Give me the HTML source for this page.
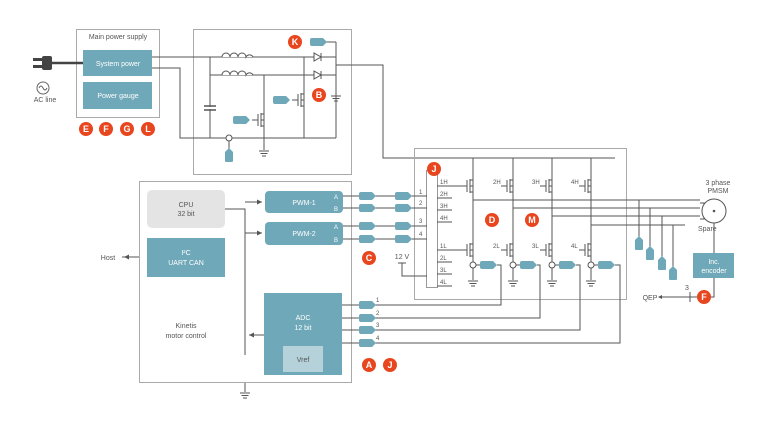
<!DOCTYPE html>
<html><head><meta charset="utf-8"><style>
html,body{margin:0;padding:0;background:#fff;}
svg{display:block;font-family:"Liberation Sans",sans-serif;}
</style></head><body>
<svg width="768" height="432" viewBox="0 0 768 432" xmlns="http://www.w3.org/2000/svg">
<defs>
<path id="tg" d="M0,-4 h11 l4,4 l-4,4 h-11 a2,2 0 0 1 -2,-2 v-4 a2,2 0 0 1 2,-2z" fill="#6fa8b8"/>
<path id="tgv" d="M-4,0 l4,-4 l4,4 v9 a1,1 0 0 1 -1,1 h-6 a1,1 0 0 1 -1,-1z" fill="#6fa8b8"/>
<g id="gnd" stroke="#555" stroke-width="1"><line x1="-5" y1="0" x2="5" y2="0"/><line x1="-3.5" y1="2.5" x2="3.5" y2="2.5"/><line x1="-2" y1="5" x2="2" y2="5"/></g>
<g id="fet" stroke="#555" stroke-width="1" fill="none"><line x1="-12" y1="0" x2="-6" y2="0"/><line x1="-6" y1="-6" x2="-6" y2="6"/><line x1="-3" y1="-7" x2="-3" y2="7"/><path d="M0,-12 v6 h-3 M-3,6 h3 v6"/><line x1="-3" y1="0" x2="0" y2="0"/></g>
</defs>
<rect width="768" height="432" fill="#fff"/>
<g stroke="#555" stroke-width="1" fill="none">
<rect x="76.5" y="29.5" width="83" height="88" stroke="#aaa"/>
<rect x="193.5" y="29.5" width="158" height="145" stroke="#aaa"/>
<line x1="50" y1="63" x2="83" y2="63" stroke-width="2.5" stroke="#444"/>
<path d="M152,57 H336 M152,68 H180 V138 H336 M210,57 V138 M210,75 H336 M304,57 V138 M336,42 V138 M264,75 V150 M229,138 V150 M322,42 H336"/>
<path d="M336,65 H383 V158 H615"/>
<path d="M222,57 a4,4 0 0 1 8,0 a4,4 0 0 1 8,0 a4,4 0 0 1 8,0 a4,4 0 0 1 7,0 M222,75 a4,4 0 0 1 8,0 a4,4 0 0 1 8,0 a4,4 0 0 1 8,0 a4,4 0 0 1 7,0" fill="#fff"/>
<path d="M204,106 h12 M204,110 h12" stroke-width="1.5"/>
<rect x="204" y="107" width="12" height="2" fill="#fff" stroke="none"/>
<path d="M314,53 v8 l7,-4z M321,53 v8 M314,71 v8 l7,-4z M321,71 v8" fill="#fff"/>
<rect x="414.5" y="148.5" width="212" height="151" stroke="#aaa"/>
<rect x="426.5" y="170.5" width="11" height="117" stroke="#999" fill="#fff"/>
<rect x="139.5" y="181.5" width="212" height="201" stroke="#aaa"/>
<path d="M225,209 H245 V355 M245,202 H262 M245,233 H262 M264,335 H249"/>
<path d="M139,257 H122"/>
<path d="M343,196 H427 M343,208 H427 M343,226 H427 M343,239 H427"/>
<path d="M398,263 h8 M402,263 V276 H427"/>
<path d="M437,186 h15 M437,198 h15 M437,210 h15 M437,222 h15 M437,250 h15 M437,262 h15 M437,274 h15 M437,286 h15"/>
<path d="M452,186 H461 M452,250 H461"/>
<path d="M473,158 V262 M513,158 V262 M552,158 V262 M591,158 V262"/>
<path d="M473,200 H700 M513,208 H700 M552,216 H700 M591,225 H685"/>
<path d="M639,200 V240 M650,208 V250 M662,216 V260 M673,225 V270"/>
<path d="M473,268 V280 M513,268 V280 M552,268 V280 M591,268 V280"/>
<path d="M476,265 H482 M516,265 H522 M555,265 H561 M594,265 H600"/>
<path d="M497,265 H501 V305 H342 M537,265 H540 V318 H342 M576,265 H580 V330 H342 M615,265 H620 V343 H342"/>
<path d="M700,203 h4 v16 h-4" />
<path d="M714,211 V253 M714,278 V297 H668 M690,292 v10" />
<path d="M668,297 h-8"/>
<line x1="245" y1="383" x2="245" y2="392"/>
</g>
<circle cx="229" cy="138" r="3" fill="#fff" stroke="#555"/>
<g fill="#fff" stroke="#555"><circle cx="473" cy="265" r="3"/><circle cx="513" cy="265" r="3"/><circle cx="552" cy="265" r="3"/><circle cx="591" cy="265" r="3"/></g>
<circle cx="714" cy="211" r="12" fill="#fff" stroke="#555"/>
<circle cx="714" cy="211" r="1.3" fill="#555"/>
<path d="M658,297 l4,-2 v4z" fill="#555"/>
<path d="M124,257 l5,-2.5 v5z" fill="#555"/>
<path d="M262,202 l-5,-2.5 v5z M262,233 l-5,-2.5 v5z M249,335 l5,-2.5 v5z" fill="#555"/>
<use href="#fet" x="473" y="186"/><use href="#fet" x="513" y="186"/><use href="#fet" x="552" y="186"/><use href="#fet" x="591" y="186"/>
<use href="#fet" x="473" y="250"/><use href="#fet" x="513" y="250"/><use href="#fet" x="552" y="250"/><use href="#fet" x="591" y="250"/>
<use href="#fet" x="304" y="100"/><use href="#fet" x="264" y="120"/>
<use href="#gnd" x="473" y="281"/><use href="#gnd" x="513" y="281"/><use href="#gnd" x="552" y="281"/><use href="#gnd" x="591" y="281"/>
<use href="#gnd" x="264" y="151"/><use href="#gnd" x="245" y="393"/><use href="#gnd" x="336" y="96"/>
<use href="#tg" x="312" y="42"/><use href="#tg" x="275" y="100"/><use href="#tg" x="235" y="120"/>
<use href="#tgv" x="229" y="152"/>
<use href="#tg" x="361" y="196"/><use href="#tg" x="361" y="208"/><use href="#tg" x="361" y="226"/><use href="#tg" x="361" y="239"/>
<use href="#tg" x="397" y="196"/><use href="#tg" x="397" y="208"/><use href="#tg" x="397" y="226"/><use href="#tg" x="397" y="239"/>
<use href="#tg" x="361" y="305"/><use href="#tg" x="361" y="318"/><use href="#tg" x="361" y="330"/><use href="#tg" x="361" y="343"/>
<use href="#tg" x="482" y="265"/><use href="#tg" x="522" y="265"/><use href="#tg" x="561" y="265"/><use href="#tg" x="600" y="265"/>
<use href="#tgv" x="639" y="240"/><use href="#tgv" x="650" y="250"/><use href="#tgv" x="662" y="260"/><use href="#tgv" x="673" y="270"/>
<rect x="42" y="56" width="10" height="14" rx="2" fill="#444"/>
<rect x="33" y="58" width="10" height="3" fill="#444"/><rect x="33" y="65" width="10" height="3" fill="#444"/>
<circle cx="43" cy="88" r="6" fill="#fff" stroke="#666"/>
<path d="M39,88 q2,-4 4,0 t4,0" fill="none" stroke="#666"/>
<rect x="83" y="50" width="69" height="26" fill="#6fa8b8"/>
<rect x="83" y="82" width="69" height="27" fill="#6fa8b8"/>
<rect x="147" y="190" width="78" height="38" rx="5" fill="#e4e4e4"/>
<rect x="147" y="238" width="78" height="39" fill="#6fa8b8"/>
<rect x="265" y="191" width="78" height="22" rx="4" fill="#6fa8b8"/>
<rect x="265" y="222" width="78" height="23" rx="4" fill="#6fa8b8"/>
<rect x="264" y="293" width="78" height="82" fill="#6fa8b8"/>
<rect x="283" y="346" width="40" height="26" fill="#b5d1d9"/>
<rect x="693" y="253" width="41" height="25" fill="#6fa8b8"/>
<g font-size="7" fill="#555" text-anchor="middle">
<text x="118" y="39">Main power supply</text>
<text x="45" y="102">AC line</text>
<text x="186" y="328">Kinetis</text>
<text x="186" y="338">motor control</text>
<text x="108" y="260">Host</text>
<text x="402" y="259">12 V</text>
<text x="718" y="185">3 phase</text><text x="718" y="193">PMSM</text>
<text x="698" y="231" text-anchor="start">Spare</text>
<text x="650" y="300">QEP</text>
<text x="687" y="290">3</text>
<text x="186" y="207">CPU</text><text x="186" y="216">32 bit</text>
<text x="303" y="362">Vref</text>
</g>
<g font-size="7" fill="#fff" text-anchor="middle">
<text x="118" y="66">System power</text>
<text x="118" y="98">Power gauge</text>
<text x="186" y="255">I²C</text><text x="186" y="265">UART CAN</text>
<text x="304" y="205">PWM-1</text><text x="304" y="236">PWM-2</text>
<text x="336" y="199" font-size="6">A</text><text x="336" y="211" font-size="6">B</text>
<text x="336" y="229" font-size="6">A</text><text x="336" y="242" font-size="6">B</text>
<text x="303" y="320">ADC</text><text x="303" y="330">12 bit</text>
<text x="714" y="264">Inc.</text><text x="714" y="273">encoder</text>
</g>
<g font-size="6" fill="#555">
<text x="419" y="194">1</text><text x="419" y="205">2</text><text x="419" y="223">3</text><text x="419" y="236">4</text>
<text x="376" y="302">1</text><text x="376" y="315">2</text><text x="376" y="327">3</text><text x="376" y="340">4</text>
<text x="440" y="184">1H</text><text x="440" y="196">2H</text><text x="440" y="208">3H</text><text x="440" y="220">4H</text>
<text x="440" y="248">1L</text><text x="440" y="260">2L</text><text x="440" y="272">3L</text><text x="440" y="284">4L</text>
<text x="493" y="184">2H</text><text x="532" y="184">3H</text><text x="571" y="184">4H</text>
<text x="493" y="248">2L</text><text x="532" y="248">3L</text><text x="571" y="248">4L</text>
</g>
<g fill="#e8461e"><circle cx="86" cy="129" r="7"/><circle cx="106" cy="129" r="7"/><circle cx="127" cy="129" r="7"/><circle cx="148" cy="129" r="7"/>
<circle cx="295" cy="42" r="7"/><circle cx="319" cy="95" r="7"/><circle cx="434" cy="169" r="7"/><circle cx="492" cy="220" r="7"/><circle cx="532" cy="220" r="7"/>
<circle cx="369" cy="258" r="7"/><circle cx="369" cy="365" r="7"/><circle cx="390" cy="365" r="7"/><circle cx="704" cy="297" r="7"/></g>
<g font-size="9" font-weight="bold" fill="#fff" text-anchor="middle">
<text x="86" y="132">E</text><text x="106" y="132">F</text><text x="127" y="132">G</text><text x="148" y="132">L</text>
<text x="295" y="45">K</text><text x="319" y="98">B</text><text x="434" y="172">J</text><text x="492" y="223">D</text><text x="532" y="223">M</text>
<text x="369" y="261">C</text><text x="369" y="368">A</text><text x="390" y="368">J</text><text x="704" y="300">F</text>
</g>
</svg>
</body></html>
